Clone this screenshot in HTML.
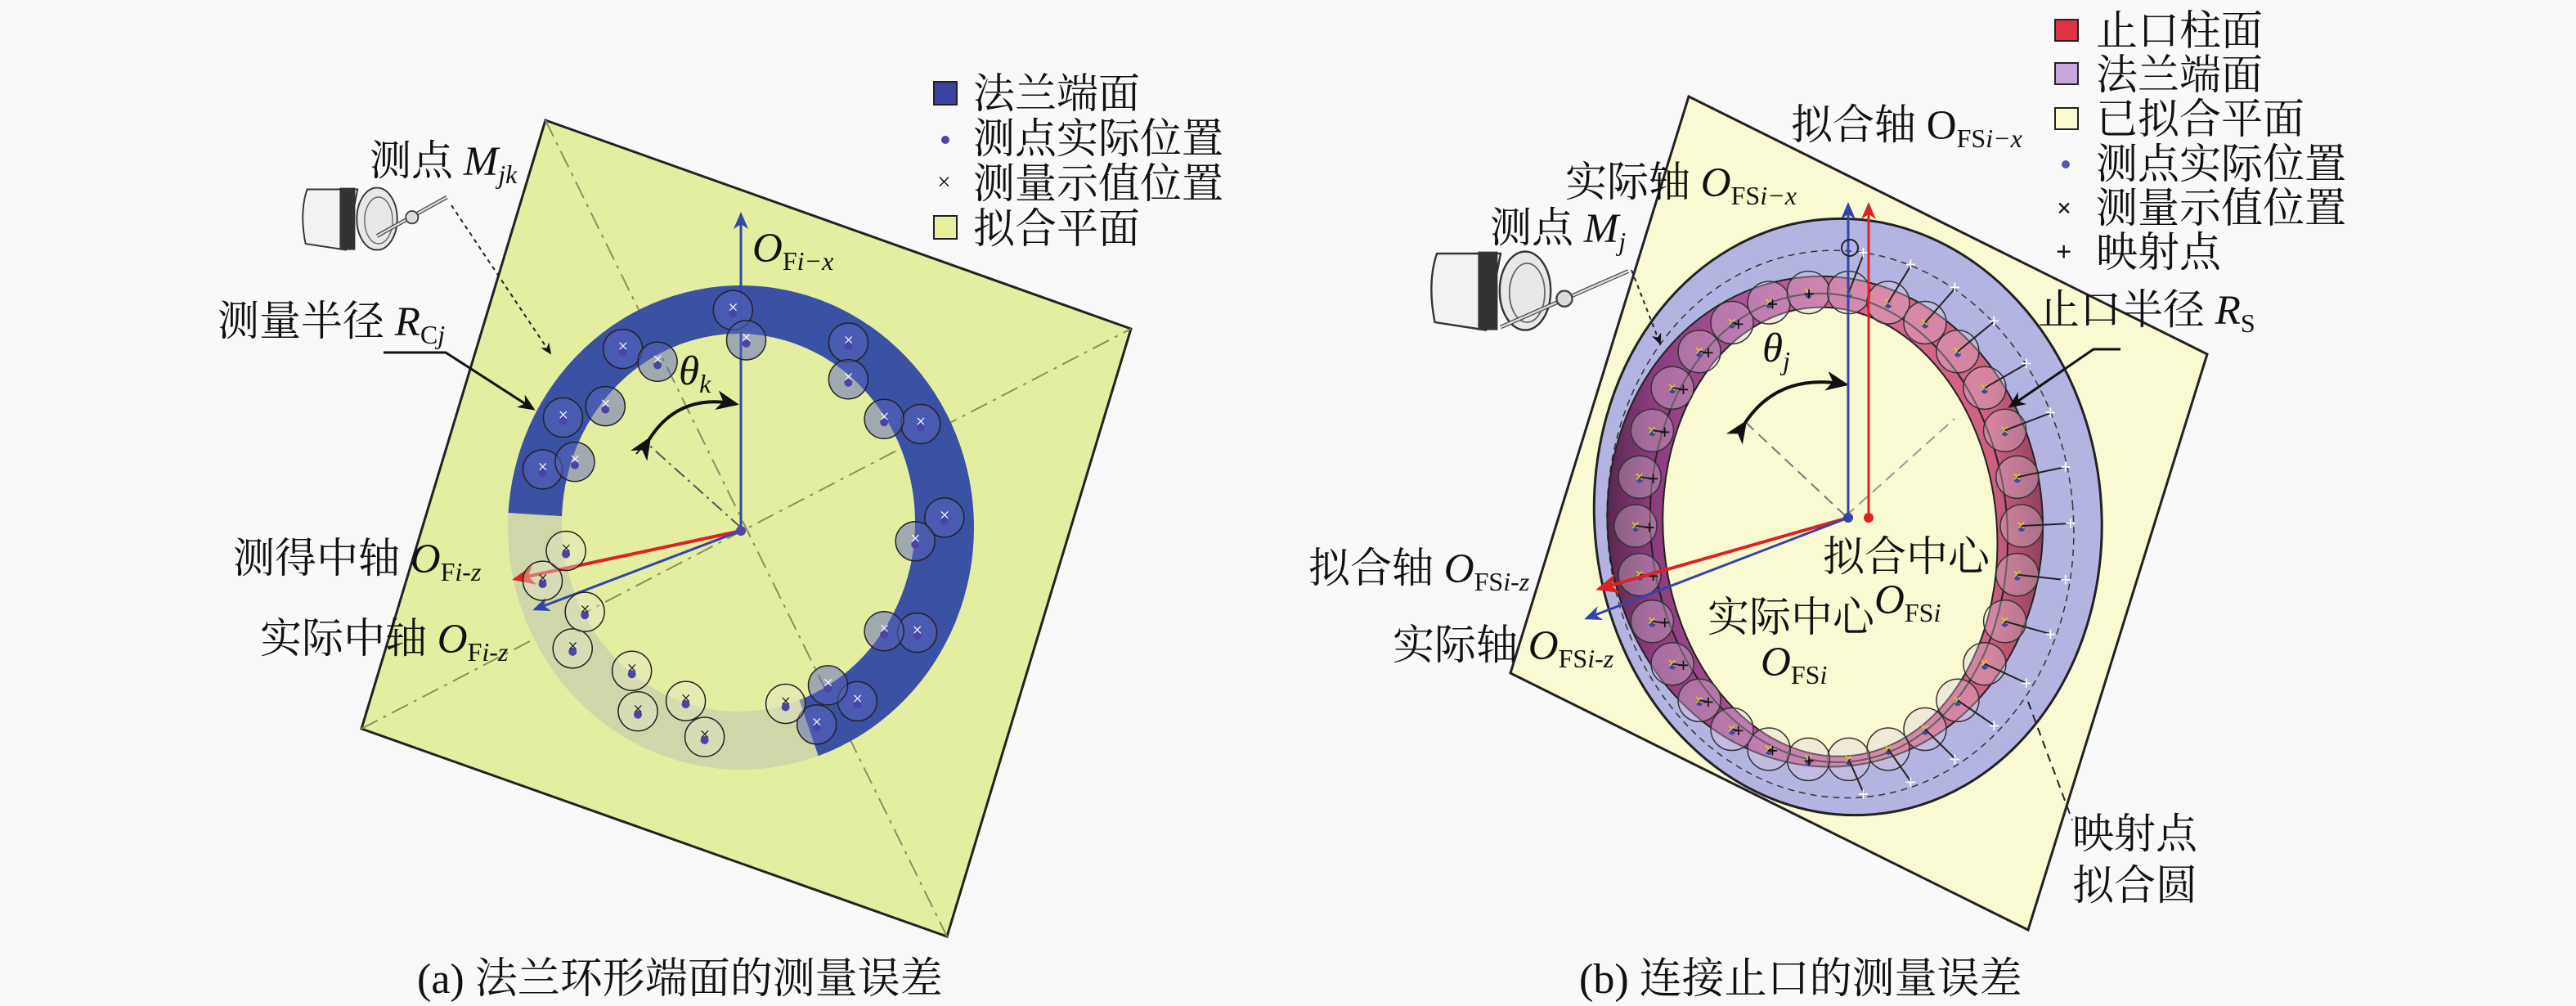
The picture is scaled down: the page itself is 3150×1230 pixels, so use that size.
<!DOCTYPE html>
<html><head><meta charset="utf-8">
<style>
html,body{margin:0;padding:0;background:#f9f9f9;}
svg{display:block;}
text{font-family:"Liberation Serif","Noto Serif CJK SC","Noto Sans CJK SC",serif;fill:#111;}
.t{font-size:51px;}
.i{font-style:italic;}
.s{font-size:32px;}
</style></head>
<body>
<svg id="sv" width="3150" height="1230" viewBox="0 0 3150 1230" xmlns="http://www.w3.org/2000/svg">
<defs>
<marker id="ab" markerWidth="8" markerHeight="8" refX="6" refY="3" orient="auto" markerUnits="strokeWidth"><path d="M0,0 L7,3 L0,6 L2,3z" fill="#3344aa"/></marker>
<marker id="ar" markerWidth="8" markerHeight="8" refX="6" refY="3" orient="auto" markerUnits="strokeWidth"><path d="M0,0 L7,3 L0,6 L2,3z" fill="#dd2222"/></marker>
<marker id="ak" markerWidth="8" markerHeight="8" refX="6" refY="3" orient="auto" markerUnits="strokeWidth"><path d="M0,0 L7,3 L0,6 L2,3z" fill="#111"/></marker>
<linearGradient id="pk" x1="0" y1="0" x2="1" y2="0">
<stop offset="0" stop-color="#4a2040"/><stop offset="0.12" stop-color="#8a3c7c"/><stop offset="0.35" stop-color="#b0569a"/><stop offset="0.6" stop-color="#d86a90"/><stop offset="0.85" stop-color="#d06080"/><stop offset="1" stop-color="#7a3450"/>
</linearGradient>
<mask id="ringL"><rect width="3150" height="1230" fill="#000"/><ellipse cx="906" cy="645" rx="285" ry="296" fill="#fff"/><ellipse cx="903" cy="639" rx="216" ry="231" fill="#000"/></mask>
<mask id="ringR"><rect width="3150" height="1230" fill="#000"/><ellipse cx="2232" cy="637" rx="266" ry="300" fill="#fff" transform="rotate(-5 2240 640)"/><ellipse cx="2237" cy="650" rx="204" ry="275" fill="#000" transform="rotate(-5 2240 640)"/></mask>
</defs>

<!-- LEFT PANEL -->
<polygon points="667,147 1383,402 1158,1145 442,891" fill="#e4eea0" stroke="#222" stroke-width="3"/>
<line x1="667" y1="147" x2="1158" y2="1145" stroke="#889060" stroke-width="2" stroke-dasharray="22,8,4,8"/>
<line x1="442" y1="891" x2="1383" y2="402" stroke="#889060" stroke-width="2" stroke-dasharray="22,8,4,8"/>
<g mask="url(#ringL)">
<rect x="600" y="330" width="620" height="630" fill="#3b52a4"/>
<path d="M906,645 L1005,937 L1050,1080 L500,1080 L500,620 L622,627 Z" fill="#cfd6a8"/>
</g>
<line x1="906" y1="645" x2="790" y2="541" stroke="#555" stroke-width="2" stroke-dasharray="16,6,3,6"/>
<line x1="790" y1="541" x2="778" y2="555" stroke="#222" stroke-width="2"/>
<path d="M794,537 Q830,480 900,494" fill="none" stroke="#111" stroke-width="4" marker-end="url(#ak)" marker-start="url(#ak)"/>
<line x1="906" y1="649" x2="906" y2="262" stroke="#3344aa" stroke-width="3" marker-end="url(#ab)"/>
<line x1="906" y1="649" x2="630" y2="708" stroke="#dd2222" stroke-width="4" marker-end="url(#ar)"/>
<line x1="906" y1="649" x2="654" y2="745" stroke="#3344aa" stroke-width="3" marker-end="url(#ab)"/>
<circle cx="906" cy="649" r="6" fill="#5544aa"/>
<g id="mkL"></g>

<text class="t" x="452" y="214">测点 <tspan class="i">M</tspan><tspan class="s i" dy="10">jk</tspan></text>
<text class="t" x="266" y="410">测量半径 <tspan class="i">R</tspan><tspan class="s" dy="10">C<tspan class="i">j</tspan></tspan></text>
<polyline points="469,431 545,431 652,500" fill="none" stroke="#111" stroke-width="3" marker-end="url(#ak)"/>
<line x1="552" y1="251" x2="673" y2="432" stroke="#222" stroke-width="2" stroke-dasharray="5,5" marker-end="url(#ak)"/>
<text class="t i" x="830" y="470">θ<tspan class="s" dy="10">k</tspan></text>
<text class="t" x="920" y="320"><tspan class="i">O</tspan><tspan class="s" dy="10">F<tspan class="i">i−x</tspan></tspan></text>
<text class="t" x="285" y="700">测得中轴 <tspan class="i">O</tspan><tspan class="s" dy="10">F<tspan class="i">i-z</tspan></tspan></text>
<text class="t" x="318" y="798">实际中轴 <tspan class="i">O</tspan><tspan class="s" dy="10">F<tspan class="i">i-z</tspan></tspan></text>

<!-- probe left -->
<g transform="translate(366,222) scale(0.95)">
<path d="M10,10 Q0,40 8,80 L60,88 L75,10 Z" fill="#f2f2f2" stroke="#333" stroke-width="2"/>
<rect x="52" y="8" width="20" height="80" fill="#333"/>
<ellipse cx="100" cy="48" rx="26" ry="40" fill="#e8e8e8" stroke="#333" stroke-width="2"/>
<ellipse cx="102" cy="50" rx="18" ry="30" fill="none" stroke="#666" stroke-width="1.5"/>
<line x1="100" y1="70" x2="190" y2="20" stroke="#444" stroke-width="5"/>
<line x1="100" y1="70" x2="190" y2="20" stroke="#ddd" stroke-width="2.5"/>
<circle cx="145" cy="46" r="8" fill="#ddd" stroke="#444" stroke-width="2"/>
</g>

<!-- legend left -->
<rect x="1142" y="100" width="28" height="28" fill="#3b42a0" stroke="#222" stroke-width="2"/>
<text class="t" x="1190" y="132">法兰端面</text>
<circle cx="1156" cy="171" r="5" fill="#4a44aa"/>
<text class="t" x="1190" y="187">测点实际位置</text>
<text x="1146" y="232" style="font-size:30px">×</text>
<text class="t" x="1190" y="242">测量示值位置</text>
<rect x="1142" y="264" width="28" height="28" fill="#e8f0a0" stroke="#222" stroke-width="2"/>
<text class="t" x="1190" y="297">拟合平面</text>
<text x="510" y="1214" style="font-size:52px">(a) 法兰环形端面的测量误差</text>

<!-- RIGHT PANEL -->
<polygon points="2065,118 2699,433 2480,1137 1847,823" fill="#fafad2" stroke="#222" stroke-width="3"/>
<g transform="rotate(-5 2260 635)">
<ellipse cx="2260" cy="632" rx="310" ry="365" fill="#b4b4e2" stroke="#222" stroke-width="3"/>
<ellipse cx="2250" cy="640" rx="285" ry="335" fill="none" stroke="#333" stroke-width="1.5" stroke-dasharray="8,6"/>
</g>
<g mask="url(#ringR)"><rect x="1950" y="320" width="570" height="640" fill="url(#pk)"/></g>
<ellipse cx="2237" cy="650" rx="204" ry="275" fill="#fafad2" stroke="#222" stroke-width="2" transform="rotate(-5 2240 640)"/>
<ellipse cx="2232" cy="637" rx="266" ry="300" fill="none" stroke="#222" stroke-width="2" transform="rotate(-5 2240 640)"/>
<ellipse cx="2236" cy="645" rx="218" ry="287" fill="none" stroke="#222" stroke-width="2" transform="rotate(-5 2240 640)"/>
<line x1="2257" y1="631" x2="2130" y2="512" stroke="#777" stroke-width="2" stroke-dasharray="14,8"/>
<line x1="2257" y1="631" x2="2390" y2="512" stroke="#999" stroke-width="2" stroke-dasharray="14,8"/>
<line x1="2134" y1="517" x2="2124" y2="528" stroke="#222" stroke-width="2"/>
<path d="M2134,517 Q2175,455 2257,470" fill="none" stroke="#111" stroke-width="4" marker-end="url(#ak)" marker-start="url(#ak)"/>
<g id="mkR"></g>
<line x1="2260" y1="633" x2="2260" y2="250" stroke="#3344aa" stroke-width="3" marker-end="url(#ab)"/>
<line x1="2285" y1="633" x2="2285" y2="250" stroke="#dd2222" stroke-width="3" marker-end="url(#ar)"/>
<line x1="2260" y1="633" x2="1955" y2="720" stroke="#dd2222" stroke-width="4" marker-end="url(#ar)"/>
<line x1="2260" y1="633" x2="1940" y2="756" stroke="#3344aa" stroke-width="3" marker-end="url(#ab)"/>
<circle cx="2260" cy="633" r="6" fill="#3344aa"/><circle cx="2285" cy="633" r="6" fill="#dd2222"/>
<circle cx="2262" cy="303" r="10" fill="none" stroke="#222" stroke-width="2"/>

<text class="t" x="2190" y="170">拟合轴 O<tspan class="s" dy="10">FS<tspan class="i">i−x</tspan></tspan></text>
<text class="t" x="1914" y="240">实际轴 <tspan class="i">O</tspan><tspan class="s" dy="10">FS<tspan class="i">i−x</tspan></tspan></text>
<text class="t" x="1822" y="296">测点 <tspan class="i">M</tspan><tspan class="s i" dy="10">j</tspan></text>
<text class="t i" x="2155" y="442">θ<tspan class="s" dy="10">j</tspan></text>
<text class="t" x="2492" y="396">止口半径 <tspan class="i">R</tspan><tspan class="s" dy="10">S</tspan></text>
<polyline points="2593,427 2560,427 2458,497" fill="none" stroke="#111" stroke-width="3" marker-end="url(#ak)"/>
<line x1="1995" y1="330" x2="2030" y2="420" stroke="#222" stroke-width="2" stroke-dasharray="5,5" marker-end="url(#ak)"/>
<text class="t" x="2229" y="698">拟合中心</text>
<text class="t" x="2292" y="750"><tspan class="i">O</tspan><tspan class="s" dy="10">FS<tspan class="i">i</tspan></tspan></text>
<text class="t" x="2088" y="772">实际中心</text>
<text class="t" x="2153" y="826"><tspan class="i">O</tspan><tspan class="s" dy="10">FS<tspan class="i">i</tspan></tspan></text>
<text class="t" x="1600" y="712">拟合轴 <tspan class="i">O</tspan><tspan class="s" dy="10">FS<tspan class="i">i-z</tspan></tspan></text>
<text class="t" x="1703" y="806">实际轴 <tspan class="i">O</tspan><tspan class="s" dy="10">FS<tspan class="i">i-z</tspan></tspan></text>
<line x1="2480" y1="858" x2="2534" y2="1003" stroke="#222" stroke-width="2" stroke-dasharray="10,7"/>
<text class="t" x="2534" y="1037">映射点</text>
<text class="t" x="2534" y="1100">拟合圆</text>

<!-- probe right -->
<g transform="translate(1745,298) scale(1.2)">
<path d="M10,10 Q0,40 8,80 L60,88 L75,10 Z" fill="#f2f2f2" stroke="#333" stroke-width="2"/>
<rect x="52" y="8" width="20" height="80" fill="#333"/>
<ellipse cx="100" cy="48" rx="26" ry="40" fill="#e8e8e8" stroke="#333" stroke-width="2"/>
<ellipse cx="102" cy="50" rx="18" ry="30" fill="none" stroke="#666" stroke-width="1.5"/>
<line x1="75" y1="85" x2="205" y2="28" stroke="#444" stroke-width="4"/>
<line x1="75" y1="85" x2="205" y2="28" stroke="#ddd" stroke-width="2"/>
<circle cx="140" cy="56" r="8" fill="#ddd" stroke="#444" stroke-width="2"/>
</g>

<!-- legend right -->
<rect x="2513" y="24" width="28" height="26" fill="#dd3344" stroke="#222" stroke-width="2"/>
<text class="t" x="2563" y="55">止口柱面</text>
<rect x="2513" y="77" width="28" height="26" fill="#c8a8dc" stroke="#222" stroke-width="2"/>
<text class="t" x="2563" y="109">法兰端面</text>
<rect x="2513" y="132" width="28" height="26" fill="#fafad2" stroke="#222" stroke-width="2"/>
<text class="t" x="2563" y="163">已拟合平面</text>
<circle cx="2526" cy="201" r="5" fill="#5555aa"/>
<text class="t" x="2563" y="218">测点实际位置</text>
<text x="2515" y="265" style="font-size:32px;font-weight:bold">×</text>
<text class="t" x="2563" y="272">测量示值位置</text>
<text x="2514" y="319" style="font-size:34px;font-weight:bold">+</text>
<text class="t" x="2563" y="326">映射点</text>
<text x="1931" y="1214" style="font-size:52px">(b) 连接止口的测量误差</text>
</svg>
<script>
var NS="http://www.w3.org/2000/svg";
function el(p,t,a){var e=document.createElementNS(NS,t);for(var k in a)e.setAttribute(k,a[k]);p.appendChild(e);return e;}
var L=document.getElementById("mkL");
var angs=[-92,-88,-125,-118,-58,-52,-150,-140,-28,-35,-2,5,30,35,55,60,68,75,100,108,120,128,145,152,165,172,195,200];
for(var i=0;i<angs.length;i++){var a=angs[i]*Math.PI/180;var r=(i%2?0.86:1.0);
var x=905+250*r*Math.cos(a),y=642+263*r*Math.sin(a);
var gray=(angs[i]>70&&angs[i]<185);
el(L,"circle",{cx:x,cy:y,r:24,fill:gray?"rgba(230,230,200,0.4)":"rgba(90,100,190,0.5)",stroke:"#222","stroke-width":1.5});
el(L,"circle",{cx:x,cy:y+4,r:5,fill:"#4a44aa"});
var t=el(L,"text",{x:x-6,y:y+4,style:"font-size:22px;fill:"+(gray?"#111":"#fff")});t.textContent="×";}
var R=document.getElementById("mkR");
for(var d=0;d<360;d+=12){var a=d*Math.PI/180;
var x=2236+236*Math.cos(a),y=643+287*Math.sin(a);
el(R,"circle",{cx:x,cy:y,r:26,fill:"rgba(220,200,220,0.35)",stroke:"#333","stroke-width":1.5});
el(R,"circle",{cx:x,cy:y+3,r:4,fill:"#4444aa"});
var t=el(R,"text",{x:x-6,y:y+6,style:"font-size:20px;fill:#e8d020;font-weight:bold"});t.textContent="×";
var right=Math.cos(a)>0;
var px=right?2250+283*Math.cos(a):2236+218*Math.cos(a),py=right?640+333*Math.sin(a):645+287*Math.sin(a);
el(R,"line",{x1:x,y1:y,x2:px,y2:py,stroke:"#222","stroke-width":2});
var tp=el(R,"text",{x:px-8,y:py+8,style:"font-size:24px;font-weight:bold;fill:"+(right?"#fff":"#111")});tp.textContent="+";}
</script>
</body></html>
